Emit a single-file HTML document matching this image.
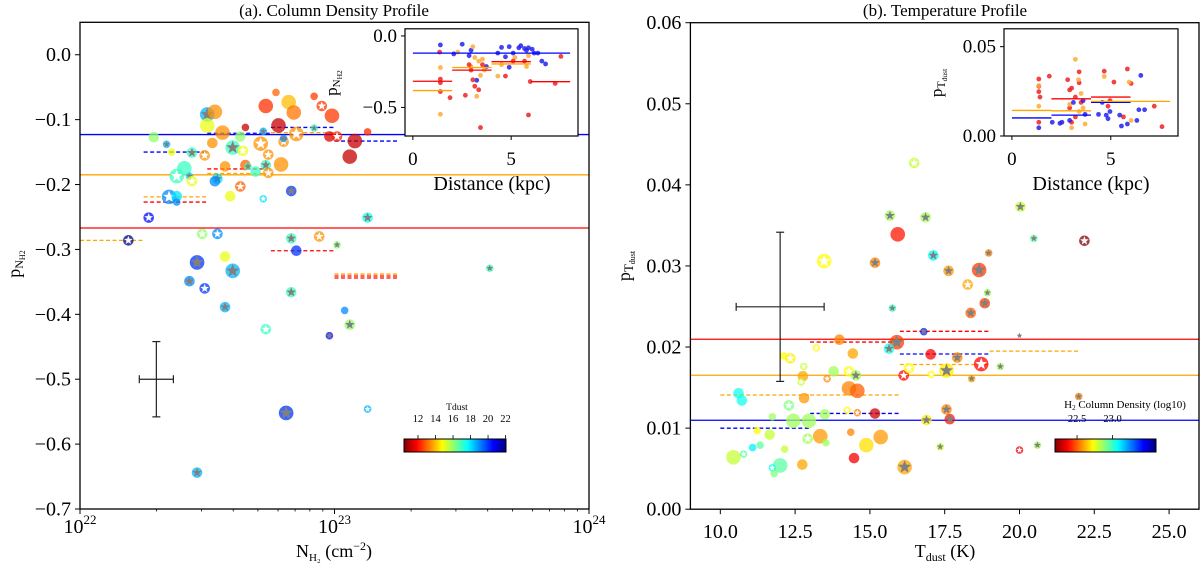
<!DOCTYPE html>
<html><head><meta charset="utf-8"><style>
body{margin:0;background:#fff}
svg{display:block;font-family:"Liberation Serif",serif}
</style></head><body>
<svg id="chart" width="1200" height="564" viewBox="0 0 1200 564" xmlns="http://www.w3.org/2000/svg">
<defs>
<linearGradient id="jetr" x1="0" x2="1" y1="0" y2="0">
<stop offset="0" stop-color="#800000"/><stop offset="0.125" stop-color="#ff0000"/><stop offset="0.375" stop-color="#ffff00"/><stop offset="0.625" stop-color="#00ffff"/><stop offset="0.875" stop-color="#0000ff"/><stop offset="1" stop-color="#000080"/>
</linearGradient>
</defs>
<g id="layer"></g>
</svg>
<script>
// ---------- data ----------
// Panel a: [log10 N_H2, p_NH2, Tdust, markerType(0 circle,1 gray star,2 white star), sizeClass]
const panelAPoints = [
[22.29,-0.127,16,0,2],[22.34,-0.138,18.5,1,1],[22.36,-0.150,15,0,1],[22.44,-0.151,17,1,2],
[22.41,-0.175,17,0,3],[22.38,-0.187,17,2,3],[22.43,-0.187,18,1,1],[22.44,-0.195,15,2,2],
[22.35,-0.219,19,2,3],[22.38,-0.218,18,0,2],[22.38,-0.227,19,0,1],[22.27,-0.251,20.5,2,2],
[22.19,-0.286,22,2,2],[22.50,-0.092,18.5,1,3],[22.53,-0.088,13.5,0,3],[22.50,-0.109,15,0,3],
[22.52,-0.136,13.5,0,2],[22.56,-0.120,13.5,0,3],[22.49,-0.155,13.5,2,2],[22.54,-0.191,18,1,2],
[22.53,-0.195,19,0,2],[22.57,-0.172,13.5,0,2],[22.60,-0.143,17,1,3],[22.63,-0.126,16,0,2],
[22.64,-0.148,15,2,2],[22.63,-0.203,13,2,2],[22.59,-0.218,15,0,2],[22.65,-0.112,11.2,0,1],
[22.65,-0.170,13,0,2],[22.66,-0.172,17,1,1],[22.69,-0.180,17,0,2],[22.71,-0.137,13.5,2,3],
[22.72,-0.118,18.5,1,1],[22.74,-0.154,13.5,2,2],[22.73,-0.170,17,1,2],[22.74,-0.182,13.5,2,2],
[22.77,-0.058,13,0,1],[22.73,-0.079,12.4,0,3],[22.78,-0.109,11.2,0,3],[22.80,-0.134,13.5,2,2],
[22.80,-0.129,19,1,1],[22.79,-0.169,13.5,0,3],[22.82,-0.073,14,0,3],[22.84,-0.089,13.2,0,3],
[22.85,-0.122,13.5,2,3],[22.83,-0.210,20,1,2],[22.72,-0.222,18,2,1],[22.92,-0.064,12.5,0,1],
[22.95,-0.079,12.5,2,2],[22.99,-0.094,12.5,0,3],[22.92,-0.113,17,1,1],[22.98,-0.126,11.5,0,2],
[23.01,-0.126,12.3,2,2],[23.08,-0.133,11.2,0,3],[23.06,-0.157,11.2,0,3],[23.13,-0.119,12.3,0,1],
[23.13,-0.251,17.5,1,2],[22.48,-0.276,16,2,2],[22.54,-0.276,19,2,2],[22.57,-0.311,15,0,2],
[22.46,-0.320,20,1,3],[22.43,-0.349,19,1,2],[22.49,-0.360,20,2,2],[22.60,-0.333,18.5,1,3],
[22.57,-0.389,18.5,1,2],[22.46,-0.644,18.5,1,2],[22.73,-0.423,17,2,2],[22.83,-0.283,17,1,2],
[22.85,-0.302,20,0,2],[22.83,-0.366,17,1,2],[22.94,-0.280,13.5,2,2],[23.01,-0.293,16,1,1],
[22.98,-0.433,20.5,1,1],[23.04,-0.394,19,0,1],[23.06,-0.416,16,1,2],[22.81,-0.552,20,1,3],
[23.13,-0.546,18.5,2,1],[23.61,-0.329,17,1,1]
];
const panelAMeans = [-0.123,-0.185,-0.267]; // blue, orange, red
const panelABinEdges = [22,22.25,22.5,22.75,23,23.25];
const panelASegments = [
[1,-0.150,0],[1,-0.219,1],[1,-0.227,2],[0,-0.286,1],[2,-0.176,2],[2,-0.183,1],[2,-0.121,0],
[3,-0.112,0],[3,-0.120,1],[3,-0.302,2],[4,-0.133,0],[4,-0.338,1],[4,-0.341,2],[4,-0.344,2]
];
const panelAErr = [22.30,-0.5,0.067,0.058];
const panelAXTicks = [22,23,24];
const panelAYTicks = [0.0,-0.1,-0.2,-0.3,-0.4,-0.5,-0.6,-0.7];

// Panel b: [Tdust, p_Tdust, log10 N_H2, markerType, sizeClass]
const panelBPoints = [
[16.48,.0427,22.8,2,2],[20.03,.0373,22.8,1,2],[15.67,.0362,22.85,1,2],[16.86,.0360,22.85,1,2],
[15.93,.0339,22.4,0,3],[20.48,.0334,22.95,1,1],[22.17,.0331,22.2,2,2],[13.47,.0306,22.72,2,3],
[15.17,.0304,22.55,1,2],[17.12,.0313,23.08,1,2],[17.63,.0294,22.58,1,2],[18.65,.0295,22.45,1,3],
[18.97,.0316,22.55,1,1],[18.27,.0277,22.6,2,2],[18.93,.0267,22.85,1,1],[15.75,.0248,23.0,1,1],
[18.84,.0254,22.45,1,2],[18.37,.0242,22.5,1,2],[16.80,.0219,23.4,1,1],[15.90,.0206,22.45,1,3],
[20.0,.0214,22.85,1,0],[13.98,.0209,22.55,0,2],[15.64,.0198,23.05,1,2],[17.03,.0191,22.37,0,2],
[17.92,.0187,22.55,1,2],[18.72,.0179,22.37,2,3],[19.36,.0176,22.85,1,1],[13.21,.0199,22.72,2,1],
[14.43,.0192,22.6,0,2],[12.12,.0189,22.72,0,1],[12.34,.0186,22.7,2,2],[12.79,.0176,22.8,2,1],
[13.79,.0170,22.85,0,2],[14.30,.0170,22.72,2,2],[14.53,.0165,22.85,1,2],[12.76,.0164,22.6,0,2],
[12.70,.0157,22.8,2,1],[13.57,.0161,22.55,2,1],[16.13,.0165,22.37,2,2],[16.31,.0174,22.72,2,2],
[17.05,.0166,22.72,2,1],[17.56,.0171,22.7,1,3],[18.40,.0161,22.6,1,1],[14.30,.0149,22.55,0,3],
[14.58,.0146,22.5,0,3],[12.80,.0137,22.58,0,2],[10.61,.0143,23.05,0,2],[10.72,.0134,23.05,0,2],
[12.29,.0128,22.9,2,2],[11.74,.0114,22.85,0,1],[12.44,.0109,22.85,0,3],[12.96,.0109,22.85,0,3],
[13.49,.0117,22.85,0,2],[14.24,.0122,22.72,2,1],[14.58,.0119,22.55,2,1],[15.17,.0118,22.3,0,2],
[17.56,.0123,22.55,1,2],[17.67,.0111,22.4,1,2],[16.89,.0110,22.7,1,2],[21.98,.0139,22.55,1,1],
[13.34,.0090,22.58,0,3],[11.65,.0092,22.8,0,2],[11.23,.0097,22.72,0,1],[12.92,.0087,22.85,2,2],
[13.53,.0082,22.85,0,1],[14.36,.0095,22.55,0,1],[14.88,.0079,22.68,0,3],[15.36,.0089,22.58,0,3],
[12.15,.0074,22.8,0,1],[11.33,.0079,22.95,0,1],[11.08,.0076,23.1,0,1],[10.44,.0064,22.8,0,3],
[10.78,.0068,22.95,2,1],[12.0,.0054,22.95,0,3],[11.74,.0051,23.05,2,1],[11.80,.0044,22.9,0,1],
[12.74,.0055,22.6,0,2],[14.47,.0063,22.35,0,2],[16.16,.0052,22.6,1,3],[17.35,.0077,22.8,1,1],
[20.0,.0073,22.35,2,1],[20.6,.0079,22.85,1,1]
];
const panelBMeans = [0.01097,0.01652,0.02096];
const panelBBinEdges = [10,13,16,19,22];
const panelBSegments = [
[0,0.01408,1],[1,0.01408,1],[0,0.00999,0],[1,0.01181,0],[1,0.02061,2],
[2,0.02194,2],[2,0.01914,0],[2,0.01785,1],[3,0.0195,1]
];
const panelBErr = [12.0,0.02496,1.47,0.0092];
const panelBXTicks = [10,12.5,15,17.5,20,22.5,25];
const panelBYTicks = [0,0.01,0.02,0.03,0.04,0.05,0.06];

// Inset a
const insetABlueX = [1.40,2.51,2.96,3.25,4.32,4.51,4.90,5.10,5.39,5.49,5.68,5.78,5.88,6.07,6.17,6.36,6.56,6.75,4.90,4.71,3.74,2.08,2.86];
const insetABlueY = [-.063,-.058,-.10,-.31,-.12,-.08,-.075,-.12,-.083,-.068,-.088,-.10,-.083,-.093,-.12,-.12,-.176,-.196,-.219,-.146,-.214,-.126,-.138];
const insetAOrangeX = [1.40,1.40,3.05,3.15,3.35,3.54,3.44,3.25,4.32,4.51,5.19,5.78,5.88,2.28,3.64,2.96];
const insetAOrangeY = [-.221,-.548,-.075,-.151,-.176,-.163,-.276,-.422,-.281,-.201,-.151,-.214,-.138,-.113,-.239,-.214];
const insetARedX = [1.36,1.40,1.40,1.40,1.89,2.67,3.05,3.15,3.35,3.44,2.96,3.54,4.71,5.10,5.68,5.88,5.97,7.24,7.53,2.86];
const insetARedY = [-.113,-.302,-.327,-.389,-.432,-.415,-.307,-.352,-.377,-.641,-.239,-.201,-.281,-.176,-.176,-.553,-.319,-.332,-.143,-.201];
const insetALines = [[0,8,-0.12,0],[0,2,-0.317,2],[0,2,-0.382,1],[2,4,-0.221,1],[2,4,-0.239,2],[4,6,-0.18,2],[4,6,-0.196,1],[6,8,-0.32,2]];

// Inset b
const insetBRedX = [1.36,1.36,1.36,1.42,1.89,2.82,2.92,3.02,3.21,3.40,3.40,3.50,2.92,3.02,4.67,5.16,5.84,6.03,7.20,7.59,5.64,4.86,3.21,4.96,1.36];
const insetBRedY = [.0319,.0278,.0248,.0218,.0335,.0315,.0258,.0268,.0218,.0359,.0298,.0188,.0157,.0077,.0363,.0302,.0375,.0294,.0167,.0052,.0107,.0167,.0107,.0198,.0077];
const insetBOrangeX = [1.36,1.36,3.21,3.37,3.50,3.60,2.92,3.70,3.02,4.67,5.93,6.03,3.40];
const insetBOrangeY = [.0282,.0167,.0429,.0315,.0238,.0157,.0177,.0067,.0046,.0333,.0302,.0087,.0137];
const insetBBlueX = [1.36,2.04,2.53,2.92,3.11,3.60,3.70,4.38,4.57,4.77,4.86,5.45,5.54,5.84,6.32,6.42,6.71,6.52,2.43,4.96];
const insetBBlueY = [.0046,.0077,.0077,.0087,.0188,.0198,.0121,.0121,.0188,.0117,.0097,.0117,.0056,.0067,.0087,.0147,.0147,.0339,.0071,.0137];
const insetBLines = [[0,2,0.0143,1],[0,2,0.0101,0],[2,4,0.0208,2],[2,4,0.0117,0],[2,4,0.0141,1],[4,6,0.0218,2],[4,6,0.0188,0],[4,8,0.0194,1]];

// ---------- drawing ----------
const NS='http://www.w3.org/2000/svg';
const layer=document.getElementById('layer');
const LINECOL=['#0000ff','#ffa500','#ff0000'];
const INSETCOL=['#2222ee','#ffaa33','#ee2222'];
function mk(tag,attrs,parent){const e=document.createElementNS(NS,tag);for(const k in attrs)e.setAttribute(k,attrs[k]);(parent||layer).appendChild(e);return e;}
function lin(d0,d1,p0,p1){return v=>p0+(v-d0)/(d1-d0)*(p1-p0);}
function jet(f){const c=x=>Math.round(255*Math.max(0,Math.min(1,x)));return 'rgb('+c(1.5-Math.abs(4*f-3))+','+c(1.5-Math.abs(4*f-2))+','+c(1.5-Math.abs(4*f-1))+')';}
function jetr(v,lo,hi){let f=(v-lo)/(hi-lo);f=Math.max(0,Math.min(1,f));return jet(1-f);}
function starPath(cx,cy,R){const r=R*0.42;let d='';for(let i=0;i<10;i++){const a=-Math.PI/2+i*Math.PI/5;const rr=i%2?r:R;d+=(i?'L':'M')+(cx+rr*Math.cos(a)).toFixed(2)+','+(cy+rr*Math.sin(a)).toFixed(2);}return d+'Z';}
const RAD=[3.2,3.8,5.3,7.3];

function axesFrame(x0,x1,y0,y1,name){
  const r=mk('rect',{x:x0,y:y0,width:x1-x0,height:y1-y0,fill:'none',stroke:'#000','stroke-width':1.3});
  
  
}
function text(x,y,s,size,anchor,name,g){const t=mk('text',{x:x,y:y,'font-size':size,'text-anchor':anchor||'middle',fill:'#000'},g);t.textContent=s;
  
  
  return t;}

function drawMarker(px,py,color,type,size,g,name){
  const R=RAD[size];
  if(size>0||type===0){const c=mk('circle',{cx:px,cy:py,r:R,fill:color,'fill-opacity':0.75},g);
    
    }
  if(type===1){const s=mk('path',{d:starPath(px,py,R*0.95),fill:'#808080'},g);
    
    }
  if(type===2){const s=mk('path',{d:starPath(px,py,R*0.85),fill:'#ffffff'},g);
    
    }
}
function errBar(sx,sy,e,g,name){
  const cx=sx(e[0]),cy=sy(e[1]);
  const xl=sx(e[0]-e[2]),xr=sx(e[0]+e[2]),yt=sy(e[1]+e[3]),yb=sy(e[1]-e[3]);
  const gg=mk('g',{stroke:'#222','stroke-width':1.2},g);
  
  
  mk('line',{x1:xl,x2:xr,y1:cy,y2:cy},gg);mk('line',{x1:cx,x2:cx,y1:yt,y2:yb},gg);
  mk('line',{x1:xl,x2:xl,y1:cy-4,y2:cy+4},gg);mk('line',{x1:xr,x2:xr,y1:cy-4,y2:cy+4},gg);
  mk('line',{x1:cx-4,x2:cx+4,y1:yt,y2:yt},gg);mk('line',{x1:cx-4,x2:cx+4,y1:yb,y2:yb},gg);
}
function fmtMinus(v,d){const s=Math.abs(v).toFixed(d);return (v<0?'\u2212':'')+s;}

// ===== Panel A =====
(function(){
  const X0=80,X1=589,Y0=22.3,Y1=509;
  const sx=lin(22,24,X0,X1), sy=lin(0.05,-0.7,Y0,Y1);
  const g=mk('g',{});
  
  
  const cp=mk('clipPath',{id:'clipA'},g);mk('rect',{x:X0,y:Y0,width:X1-X0,height:Y1-Y0},cp);
  const plot=mk('g',{'clip-path':'url(#clipA)'},g);
  panelAMeans.forEach((v,i)=>{const l=mk('line',{x1:X0,x2:X1,y1:sy(v),y2:sy(v),stroke:LINECOL[i],'stroke-width':1.3},plot);
    
    });
  panelASegments.forEach(s=>{const l=mk('line',{x1:sx(panelABinEdges[s[0]]),x2:sx(panelABinEdges[s[0]+1]),y1:sy(s[1]),y2:sy(s[1]),stroke:LINECOL[s[2]],'stroke-width':1.3,'stroke-dasharray':'4,2.5'},plot);
    
    });
  panelAPoints.forEach(p=>drawMarker(sx(p[0]),sy(p[1]),jetr(p[2],10.4,22.05),p[3],p[4],plot,'cloud-point'));
  errBar(sx,sy,panelAErr,plot,'typical-error-bar');
  axesFrame(X0,X1,Y0,Y1,'panel-a-axes');
  for(let e=22;e<24;e++)for(let m=2;m<10;m++){const x=sx(e+Math.log10(m));mk('line',{x1:x,x2:x,y1:Y1,y2:Y1+2.5,stroke:'#000','stroke-width':0.8},g);}
  panelAXTicks.forEach(v=>{const x=sx(v);mk('line',{x1:x,x2:x,y1:Y1,y2:Y1+5,stroke:'#000','stroke-width':1},g);
    const t=text(x,533,'10',20,'middle','x-tick-label',g);const ts=mk('tspan',{'font-size':13,dy:-9},t);ts.textContent=String(v);});
  panelAYTicks.forEach(v=>{const y=sy(v);mk('line',{x1:X0-5,x2:X0,y1:y,y2:y,stroke:'#000','stroke-width':1},g);
    text(X0-9,y+6.5,fmtMinus(v,1),20,'end','y-tick-label',g);});
  text(334,16,'(a). Column Density Profile',17,'middle','panel-a-title',g);
  const xl=text(334,557,'N',18,'middle','x-axis-title',g);
  let ts=mk('tspan',{'font-size':11,dy:4},xl);ts.textContent='H\u2082';
  ts=mk('tspan',{dy:-4},xl);ts.textContent=' (cm';
  ts=mk('tspan',{'font-size':12,dy:-7},xl);ts.textContent='\u22122';
  ts=mk('tspan',{dy:7},xl);ts.textContent=')';
  const yl=text(0,0,'p',18,'middle','y-axis-title',g);yl.setAttribute('transform','translate(20,264) rotate(-90)');
  ts=mk('tspan',{'font-size':12,dy:3},yl);ts.textContent='N';
  ts=mk('tspan',{'font-size':8,dy:2},yl);ts.textContent='H2';
  const cb=mk('g',{},g);
  
  
  mk('rect',{x:404,y:439,width:102,height:13,fill:'url(#jetr)',stroke:'#000','stroke-width':1},cb);
  const cs=lin(10.4,22.05,404,506);
  [12,14,16,18,20,22].forEach(v=>{mk('line',{x1:cs(v),x2:cs(v),y1:435,y2:439,stroke:'#000','stroke-width':0.8},cb);text(cs(v),422,String(v),10.5,'middle','colorbar-tick-label',cb);});
  text(457,410,'Tdust',9.5,'middle','colorbar-title',cb);
  const IX0=405,IX1=578,IY0=28.8,IY1=136;
  const ix=lin(-0.4,8.4,IX0,IX1), iy=lin(0.05,-0.7,IY0,IY1);
  const ig=mk('g',{},g);
  
  
  mk('rect',{x:IX0,y:IY0,width:IX1-IX0,height:IY1-IY0,fill:'#fff'},ig);
  [[insetABlueX,insetABlueY,0],[insetAOrangeX,insetAOrangeY,1],[insetARedX,insetARedY,2]].forEach(s=>{
    s[0].forEach((x,i)=>{const c=mk('circle',{cx:ix(x),cy:iy(s[1][i]),r:2.4,fill:INSETCOL[s[2]],'fill-opacity':0.85},ig);
      
      });});
  insetALines.forEach(l=>{const e=mk('line',{x1:ix(l[0]),x2:ix(l[1]),y1:iy(l[2]),y2:iy(l[2]),stroke:LINECOL[l[3]],'stroke-width':1.3},ig);
    
    });
  mk('rect',{x:IX0,y:IY0,width:IX1-IX0,height:IY1-IY0,fill:'none',stroke:'#000','stroke-width':1.2},ig);
  [0,5].forEach(v=>{mk('line',{x1:ix(v),x2:ix(v),y1:IY1,y2:IY1+4,stroke:'#000'},ig);text(ix(v),165,String(v),19,'middle','inset-x-tick',ig);});
  [0,-0.5].forEach(v=>{mk('line',{x1:IX0-4,x2:IX0,y1:iy(v),y2:iy(v),stroke:'#000'},ig);text(IX0-8,iy(v)+6,fmtMinus(v,1),19,'end','inset-y-tick',ig);});
  text(492,190,'Distance (kpc)',20,'middle','inset-x-title',ig);
  const iyl=text(0,0,'p',17,'middle','inset-y-title',ig);iyl.setAttribute('transform','translate(337,83) rotate(-90)');
  ts=mk('tspan',{'font-size':11,dy:3},iyl);ts.textContent='N';
  ts=mk('tspan',{'font-size':7.5,dy:2},iyl);ts.textContent='H2';
})();

// ===== Panel B =====
(function(){
  const X0=690.4,X1=1199,Y0=22.7,Y1=509.2;
  const sx=lin(9,26,X0,X1), sy=lin(0.06,0,Y0,Y1);
  const g=mk('g',{});
  
  
  const cp=mk('clipPath',{id:'clipB'},g);mk('rect',{x:X0,y:Y0,width:X1-X0,height:Y1-Y0},cp);
  const plot=mk('g',{'clip-path':'url(#clipB)'},g);
  panelBMeans.forEach((v,i)=>{const l=mk('line',{x1:X0,x2:X1,y1:sy(v),y2:sy(v),stroke:LINECOL[i],'stroke-width':1.3},plot);
    
    });
  panelBSegments.forEach(s=>{const l=mk('line',{x1:sx(panelBBinEdges[s[0]]),x2:sx(panelBBinEdges[s[0]+1]),y1:sy(s[1]),y2:sy(s[1]),stroke:LINECOL[s[2]],'stroke-width':1.3,'stroke-dasharray':'4,2.5'},plot);
    
    });
  panelBPoints.forEach(p=>drawMarker(sx(p[0]),sy(p[1]),jetr(p[2],22.19,23.61),p[3],p[4],plot,'cloud-point'));
  errBar(sx,sy,panelBErr,plot,'typical-error-bar');
  axesFrame(X0,X1,Y0,Y1,'panel-b-axes');
  panelBXTicks.forEach(v=>{const x=sx(v);mk('line',{x1:x,x2:x,y1:Y1,y2:Y1+5,stroke:'#000','stroke-width':1},g);text(x,538,v.toFixed(1),20,'middle','x-tick-label',g);});
  panelBYTicks.forEach(v=>{const y=sy(v);mk('line',{x1:X0-5,x2:X0,y1:y,y2:y,stroke:'#000','stroke-width':1},g);text(X0-9,y+6.5,v.toFixed(2),20,'end','y-tick-label',g);});
  text(945,16,'(b). Temperature Profile',17,'middle','panel-b-title',g);
  const xl=text(945,557,'T',18,'middle','x-axis-title',g);
  let ts=mk('tspan',{'font-size':12,dy:4},xl);ts.textContent='dust';
  ts=mk('tspan',{dy:-4},xl);ts.textContent=' (K)';
  const yl=text(0,0,'p',18,'middle','y-axis-title',g);yl.setAttribute('transform','translate(630,266) rotate(-90)');
  ts=mk('tspan',{'font-size':13,dy:3},yl);ts.textContent='T';
  ts=mk('tspan',{'font-size':8,dy:2},yl);ts.textContent='dust';
  const cb=mk('g',{},g);
  
  
  mk('rect',{x:1055,y:439,width:101,height:13,fill:'url(#jetr)',stroke:'#000','stroke-width':1},cb);
  const cs=lin(22.19,23.61,1055,1156);
  [22.5,23.0].forEach(v=>{mk('line',{x1:cs(v),x2:cs(v),y1:435,y2:439,stroke:'#000','stroke-width':0.8},cb);text(cs(v),422,v.toFixed(1),10.5,'middle','colorbar-tick-label',cb);});
  const ct=text(1125,408,'H',11,'middle','colorbar-title',cb);
  ts=mk('tspan',{'font-size':7,dy:2},ct);ts.textContent='2';
  ts=mk('tspan',{dy:-2},ct);ts.textContent=' Column Density (log10)';
  const IX0=1004,IX1=1178,IY0=28.8,IY1=136;
  const ix=lin(-0.4,8.4,IX0,IX1), iy=lin(0.06,0,IY0,IY1);
  const ig=mk('g',{},g);
  
  
  mk('rect',{x:IX0,y:IY0,width:IX1-IX0,height:IY1-IY0,fill:'#fff'},ig);
  [[insetBRedX,insetBRedY,2],[insetBOrangeX,insetBOrangeY,1],[insetBBlueX,insetBBlueY,0]].forEach(s=>{
    s[0].forEach((x,i)=>{const c=mk('circle',{cx:ix(x),cy:iy(s[1][i]),r:2.4,fill:INSETCOL[s[2]],'fill-opacity':0.85},ig);
      
      });});
  insetBLines.forEach(l=>{const e=mk('line',{x1:ix(l[0]),x2:ix(l[1]),y1:iy(l[2]),y2:iy(l[2]),stroke:LINECOL[l[3]],'stroke-width':1.3},ig);
    
    });
  mk('rect',{x:IX0,y:IY0,width:IX1-IX0,height:IY1-IY0,fill:'none',stroke:'#000','stroke-width':1.2},ig);
  [0,5].forEach(v=>{mk('line',{x1:ix(v),x2:ix(v),y1:IY1,y2:IY1+4,stroke:'#000'},ig);text(ix(v),165,String(v),19,'middle','inset-x-tick',ig);});
  [0,0.05].forEach(v=>{mk('line',{x1:IX0-4,x2:IX0,y1:iy(v),y2:iy(v),stroke:'#000'},ig);text(IX0-8,iy(v)+6,v.toFixed(2),19,'end','inset-y-tick',ig);});
  text(1091,190,'Distance (kpc)',20,'middle','inset-x-title',ig);
  const iyl=text(0,0,'p',17,'middle','inset-y-title',ig);iyl.setAttribute('transform','translate(942,83) rotate(-90)');
  ts=mk('tspan',{'font-size':12,dy:3},iyl);ts.textContent='T';
  ts=mk('tspan',{'font-size':7.5,dy:2},iyl);ts.textContent='dust';
})();
</script>
</body></html>
